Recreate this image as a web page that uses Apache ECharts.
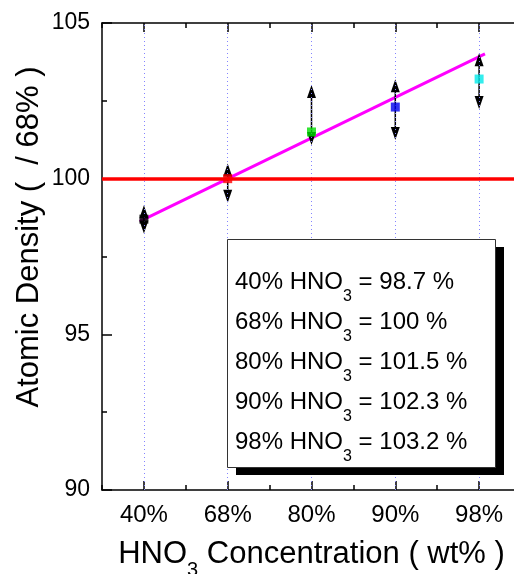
<!DOCTYPE html>
<html>
<head>
<meta charset="utf-8">
<script src="https://cdn.jsdelivr.net/npm/echarts@6/dist/echarts.min.js"></script>
<style>
  html, body { margin: 0; padding: 0; background: #ffffff; }
  #chart { width: 514px; height: 574px; }
</style>
</head>
<body>
<div id="chart"></div>
<script>
// HNO3 concentrations on the x axis
const categories = ['40%', '68%', '80%', '90%', '98%'];
// Atomic density relative to 68 wt% (percent)
const density = [98.7, 100, 101.5, 102.3, 103.2];
// Error-bar arrow tips (upper / lower)
const errUpper = [99.15, 100.49, 103.01, 103.19, 104.03];
const errLower = [98.24, 99.23, 101.08, 101.24, 102.24];
// Marker colours per concentration
const pointColors = ['#000000', '#ff0000', '#00dd00', '#0000ee', '#00e8e8'];
// Linear fit through the points (x in category positions, 1 = first)
const fitX = [0.95, 5.07];
const fitY = [98.63, 104.01];
// Reference level of the 68 wt% sample
const referenceLevel = 100;
// Y axis range and step
const yMin = 90, yMax = 105, yStep = 5;

const FONT = '"Liberation Sans", Arial, sans-serif';
const black = { color: '#000', width: 1.5 };

const chart = echarts.init(document.getElementById('chart'), null, { renderer: 'canvas' });

// Legend box lines, built from the data
const legendText = categories.map((c, i) =>
  '{m|' + c + ' HNO}{s|3}{m| = ' + density[i] + ' %}'
).join('\n');

const catAxis = (position, major, extra) => Object.assign({
  type: 'category',
  data: categories,
  position: position,
  boundaryGap: true,
  axisLine: { show: major, onZero: false, lineStyle: black },
  axisTick: { show: true, inside: true, alignWithLabel: major, length: major ? 9 : 5, lineStyle: black },
  axisLabel: { show: false },
  splitLine: { show: false }
}, extra || {});

const option = {
  animation: false,
  backgroundColor: '#ffffff',
  textStyle: { fontFamily: FONT, color: '#000' },
  grid: { left: 102, top: 23, width: 419, height: 467, containLabel: false, outerBoundsMode: 'none' },
  xAxis: [
    { type: 'value', min: 0.5, max: 5.5, position: 'bottom', show: false },
    catAxis('bottom', true, {
      axisLabel: { show: true, fontSize: 24, color: '#000', margin: 13, fontFamily: FONT },
      name: '{m|HNO}{s|3}{m| Concentration ( wt% )}',
      nameLocation: 'middle',
      nameGap: 49,
      nameTextStyle: {
        rich: {
          m: { fontSize: 31, fontFamily: FONT, color: '#000', lineHeight: 44, verticalAlign: 'top' },
          s: { fontSize: 20, fontFamily: FONT, color: '#000', lineHeight: 44, verticalAlign: 'top', padding: [21, 0, 0, 0] }
        }
      }
    }),
    catAxis('bottom', false),
    catAxis('top', true),
    catAxis('top', false)
  ],
  yAxis: [{
    type: 'value',
    min: yMin, max: yMax, interval: yStep,
    position: 'left',
    axisLine: { show: true, onZero: false, lineStyle: black },
    axisTick: { show: true, inside: true, length: 10, lineStyle: black },
    minorTick: { show: true, splitNumber: 2, length: 5, lineStyle: black },
    axisLabel: { fontSize: 23, color: '#000', margin: 12, fontFamily: FONT },
    splitLine: { show: false }
  }],
  series: [
    {
      // dotted vertical guides at each concentration
      type: 'line', xAxisIndex: 0, data: [], z: 1, silent: true,
      markLine: {
        silent: true, symbol: 'none', label: { show: false },
        lineStyle: { color: '#8585ff', type: [1, 3], width: 1 },
        data: categories.map((c, i) => ({ xAxis: i + 1 }))
      }
    },
    {
      // reference level
      type: 'line', xAxisIndex: 0, data: [], z: 2, silent: true,
      markLine: {
        silent: true, symbol: 'none', label: { show: false },
        lineStyle: { color: '#ff0000', type: 'solid', width: 3.5 },
        data: [{ yAxis: referenceLevel }]
      }
    },
    {
      // linear fit
      type: 'line', xAxisIndex: 0, z: 3, silent: true,
      data: fitX.map((x, i) => [x, fitY[i]]),
      symbol: 'none',
      lineStyle: { color: '#ff00ff', width: 3 }
    },
    {
      // double-headed error arrows
      type: 'custom', xAxisIndex: 0, z: 4, silent: true,
      encode: { x: 0, y: [1, 2] },
      data: categories.map((c, i) => [i + 1, errLower[i], errUpper[i]]),
      renderItem: function (params, api) {
        const x = api.value(0);
        const lo = api.coord([x, api.value(1)]);
        const hi = api.coord([x, api.value(2)]);
        const hl = 13, hw = 4.5;
        return {
          type: 'group',
          children: [
            { type: 'line', shape: { x1: hi[0], y1: hi[1] + hl - 1, x2: lo[0], y2: lo[1] - hl + 1 },
              style: { stroke: '#000', lineWidth: 1.5 } },
            { type: 'polygon', shape: { points: [[hi[0], hi[1]], [hi[0] - hw, hi[1] + hl], [hi[0] + hw, hi[1] + hl]] },
              style: { fill: '#000' } },
            { type: 'polygon', shape: { points: [[lo[0], lo[1]], [lo[0] - hw, lo[1] - hl], [lo[0] + hw, lo[1] - hl]] },
              style: { fill: '#000' } }
          ]
        };
      }
    },
    {
      // measured points
      type: 'scatter', xAxisIndex: 0, z: 5, silent: true,
      symbol: 'rect', symbolSize: 9,
      data: density.map((v, i) => ({ value: [i + 1, v], itemStyle: { color: pointColors[i] } }))
    }
  ],
  graphic: [
    {
      type: 'text', x: 29, y: 237, rotation: Math.PI / 2, z: 10,
      style: {
        text: 'Atomic Density (  / 68% )',
        fontSize: 31, fontFamily: FONT, fill: '#000',
        align: 'center', verticalAlign: 'middle'
      }
    },
    {
      type: 'rect', z: 10,
      shape: { x: 236, y: 247, width: 268, height: 228 },
      style: { fill: '#000' }
    },
    {
      type: 'rect', z: 11,
      shape: { x: 227.5, y: 239.5, width: 268, height: 228 },
      style: { fill: '#fff', stroke: '#333', lineWidth: 1 }
    },
    {
      type: 'text', x: 235, y: 270, z: 12,
      style: {
        text: legendText,
        align: 'left', verticalAlign: 'top',
        fontSize: 24, fontFamily: FONT, fill: '#000',
        rich: {
          m: { fontSize: 24, fontFamily: FONT, fill: '#000', lineHeight: 40, verticalAlign: 'top' },
          s: { fontSize: 16, fontFamily: FONT, fill: '#000', lineHeight: 40, verticalAlign: 'top', padding: [19, 0, 0, 0] }
        }
      }
    }
  ]
};

chart.setOption(option);
</script>
</body>
</html>
